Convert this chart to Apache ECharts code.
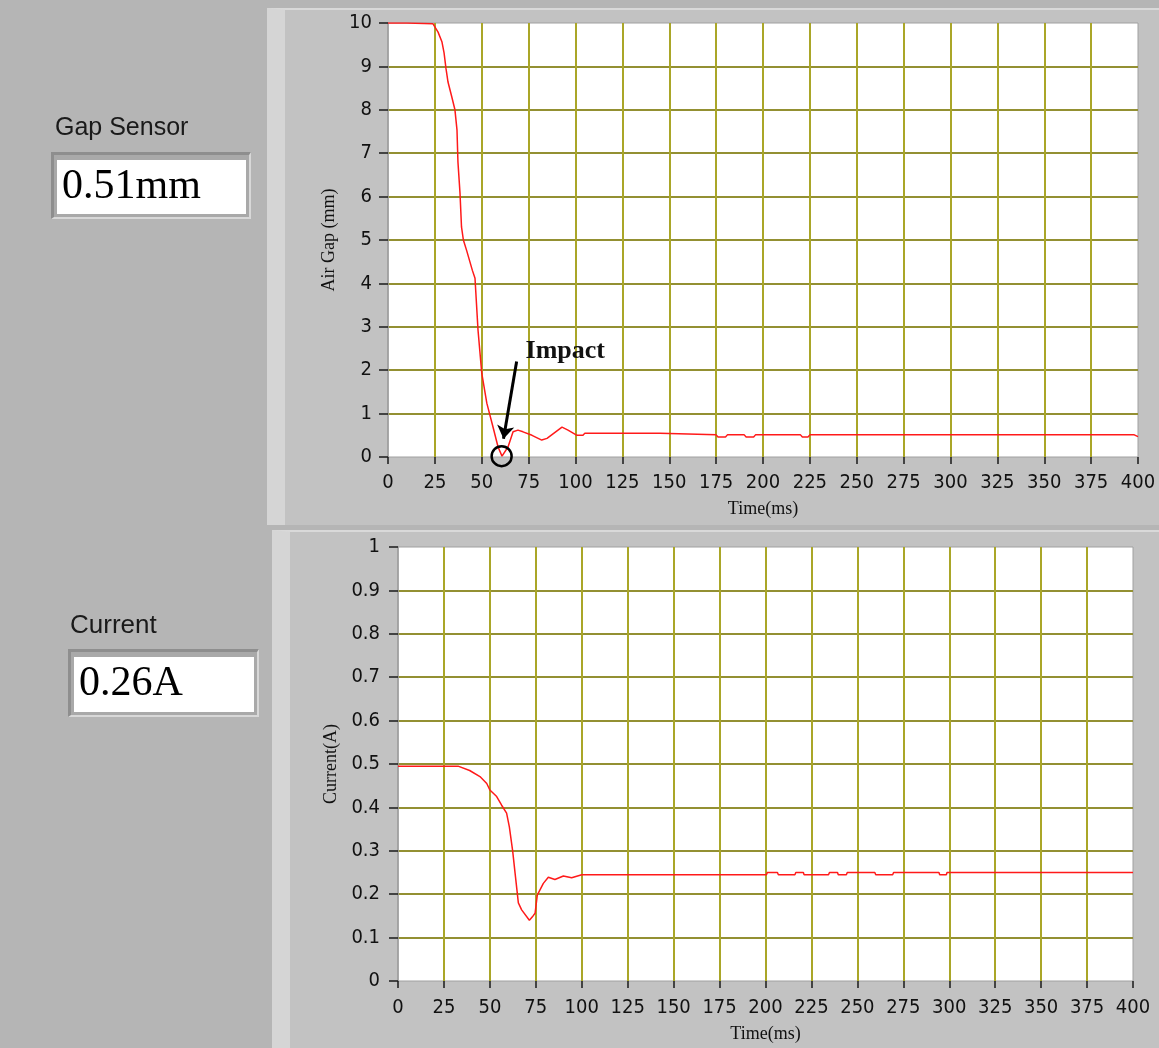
<!DOCTYPE html>
<html>
<head>
<meta charset="utf-8">
<script src="https://cdn.jsdelivr.net/npm/echarts@6/dist/echarts.min.js"></script>
<style>
  html, body { margin: 0; padding: 0; width: 1159px; height: 1048px; overflow: hidden; background: #b5b5b5; }
  .panel { position: absolute; background: #c2c2c2; box-sizing: border-box; border-left: 18px solid #d5d5d5; border-top: 2px solid #d9d9d9; }
  .box { position: absolute; box-sizing: border-box; background: #a9a9a9; border-top: 3px solid #8e8e8e; border-left: 3px solid #8e8e8e; border-bottom: 2px solid #d8d8d8; border-right: 2px solid #d8d8d8; }
  .box .in { position: absolute; background: #fff; left: 3px; top: 5px; right: 3px; bottom: 3px; }
  #chart { position: absolute; left: 0; top: 0; width: 1159px; height: 1048px; }
</style>
</head>
<body>
<div class="panel" style="left:267px;top:8px;width:892px;height:517px;"></div>
<div class="panel" style="left:272px;top:530px;width:887px;height:518px;"></div>
<div class="box" style="left:51px;top:152px;width:200px;height:67px;"><div class="in"></div></div>
<div class="box" style="left:68px;top:649px;width:191px;height:68px;"><div class="in"></div></div>
<div id="chart"></div>
<script>
// ---- data ----
const gapTime   = [0, 10, 11, 24, 26.7, 28.8, 29.9, 30.9, 32, 34, 35.7, 36.8, 37.3, 38.4, 39.2, 40.2, 42, 45, 46.4, 48, 50, 52.7, 56, 58.7, 60.8, 64, 66.7, 69.3, 72, 76.8, 82, 84.8, 92.8, 96, 100.8, 104, 105, 145, 146, 175, 176, 180, 181, 190, 191, 195, 196, 220, 221, 224, 225, 398, 400];
const gapValues = [10, 10, 9.98, 9.98, 9.79, 9.56, 9.31, 8.96, 8.64, 8.3, 8.0, 7.53, 6.8, 6.08, 5.3, 5.0, 4.75, 4.3, 4.12, 2.93, 1.93, 1.24, 0.69, 0.23, 0.02, 0.23, 0.58, 0.62, 0.58, 0.5, 0.39, 0.43, 0.69, 0.62, 0.5, 0.5, 0.55, 0.55, 0.51, 0.51, 0.46, 0.46, 0.51, 0.51, 0.46, 0.46, 0.51, 0.51, 0.46, 0.46, 0.51, 0.51, 0.47];

const curTime   = [0, 32.7, 39, 44.6, 48.3, 50, 53.7, 56.4, 59.1, 60.6, 62.4, 63.7, 65.5, 67.3, 71.5, 73.5, 74.6, 75.8, 79.1, 81.8, 85.4, 90, 94.5, 100, 200.5, 201, 206.5, 207, 216, 216.5, 220.6, 221, 234.3, 234.8, 239.2, 239.6, 244, 244.5, 259.5, 260, 269.2, 269.7, 294.4, 294.8, 298.4, 298.8, 400];
const curValues = [0.495, 0.495, 0.485, 0.471, 0.455, 0.44, 0.425, 0.405, 0.387, 0.355, 0.30, 0.249, 0.18, 0.164, 0.14, 0.15, 0.156, 0.198, 0.225, 0.239, 0.234, 0.242, 0.238, 0.245, 0.245, 0.25, 0.25, 0.245, 0.245, 0.25, 0.25, 0.245, 0.245, 0.25, 0.25, 0.245, 0.245, 0.25, 0.25, 0.245, 0.245, 0.25, 0.25, 0.245, 0.245, 0.25, 0.25];

const timeMin = 0, timeMax = 400, timeStep = 25;
const gapMin = 0, gapMax = 10, gapStep = 1;
const curMin = 0, curMax = 1, curStep = 0.1;

const impactCircle = [60.6, 0.02];
const impactArrowFrom = [68.6, 2.2];
const impactArrowTo = [61.6, 0.42];
const impactLabelAt = [73.1, 2.44];

const tickFont = '"DejaVu Sans Condensed", "Liberation Sans Narrow", sans-serif';
const serif = '"Liberation Serif", "DejaVu Serif", serif';

function pairs(xs, ys) { return xs.map((x, i) => [x, ys[i]]); }

function xAxisCfg(gi, offset, margin, gap) {
  return {
    type: 'value', gridIndex: gi, min: timeMin, max: timeMax, interval: timeStep,
    offset: offset,
    axisLine: { show: false },
    axisTick: { show: true, length: 7, lineStyle: { color: '#1a1a1a', width: 1.5 } },
    axisLabel: { margin: margin, fontFamily: tickFont, fontSize: 20, color: '#111' },
    splitLine: { show: true, showMinLine: false, showMaxLine: false, lineStyle: { color: '#aaa628', width: 2 } },
    name: 'Time(ms)', nameLocation: 'middle', nameGap: gap,
    nameTextStyle: { fontFamily: serif, fontSize: 18, color: '#111' }
  };
}
function yAxisCfg(gi, min, max, step, margin, name, gap, fmt) {
  return {
    type: 'value', gridIndex: gi, min: min, max: max, interval: step,
    axisLine: { show: true, lineStyle: { color: '#9c9c9c', width: 1.5 } },
    axisTick: { show: true, length: 9, lineStyle: { color: '#1a1a1a', width: 1.5 } },
    axisLabel: { margin: margin, fontFamily: tickFont, fontSize: 20, color: '#111', formatter: fmt },
    splitLine: { show: true, showMinLine: false, showMaxLine: false, lineStyle: { color: '#939032', width: 2 } },
    name: name, nameLocation: 'middle', nameGap: gap, nameRotate: 90,
    nameTextStyle: { fontFamily: serif, fontSize: 18, color: '#111' }
  };
}

const chart = echarts.init(document.getElementById('chart'), null, { renderer: 'canvas' });
chart.setOption({
  animation: false,
  backgroundColor: 'transparent',
  grid: [
    { left: 388, right: 21, top: 23, bottom: 591, show: true, backgroundColor: '#ffffff', borderColor: '#a0a0a0', borderWidth: 1 },
    { left: 398, right: 26, top: 547, bottom: 67, show: true, backgroundColor: '#ffffff', borderColor: '#a0a0a0', borderWidth: 1 }
  ],
  xAxis: [ xAxisCfg(0, 5, 11, 38), xAxisCfg(1, 6, 11, 38) ],
  yAxis: [
    yAxisCfg(0, gapMin, gapMax, gapStep, 16, 'Air Gap (mm)', 49, v => String(v)),
    yAxisCfg(1, curMin, curMax, curStep, 18, 'Current(A)', 54, v => (Math.round(v * 10) / 10).toString())
  ],
  graphic: [
    { type: 'text', left: 55, top: 116, style: { text: 'Gap Sensor', fontFamily: '"Liberation Sans", Arial, sans-serif', fontSize: 25, fill: '#1a1a1a' } },
    { type: 'text', left: 62, top: 166, style: { text: '0.51mm', fontFamily: serif, fontSize: 42, fill: '#000' } },
    { type: 'text', left: 70, top: 613, style: { text: 'Current', fontFamily: '"Liberation Sans", Arial, sans-serif', fontSize: 26, fill: '#1a1a1a' } },
    { type: 'text', left: 79, top: 663, style: { text: '0.26A', fontFamily: serif, fontSize: 42, fill: '#000' } }
  ],
  series: [
    {
      type: 'line', xAxisIndex: 0, yAxisIndex: 0, data: pairs(gapTime, gapValues),
      showSymbol: false, symbol: 'none', lineStyle: { color: '#ff1a1a', width: 1.5 }, z: 3,
      markPoint: {
        silent: true, animation: false,
        data: [
          { coord: impactCircle, symbol: 'circle', symbolSize: 20,
            itemStyle: { color: 'rgba(0,0,0,0)', borderColor: '#000', borderWidth: 2.5 }, label: { show: false } },
          { coord: impactLabelAt, symbol: 'circle', symbolSize: 1, itemStyle: { color: 'rgba(0,0,0,0)' },
            label: { show: true, position: 'right', distance: 0, formatter: 'Impact',
                     fontFamily: serif, fontWeight: 'bold', fontSize: 26, color: '#111' } }
        ]
      },
      markLine: {
        silent: true, animation: false, symbol: ['none', 'arrow'], symbolSize: 13,
        lineStyle: { color: '#000', width: 3, type: 'solid' }, label: { show: false },
        data: [[ { coord: impactArrowFrom }, { coord: impactArrowTo } ]]
      }
    },
    {
      type: 'line', xAxisIndex: 1, yAxisIndex: 1, data: pairs(curTime, curValues),
      showSymbol: false, symbol: 'none', lineStyle: { color: '#ff1a1a', width: 1.5 }, z: 3
    }
  ]
});
</script>
</body>
</html>
